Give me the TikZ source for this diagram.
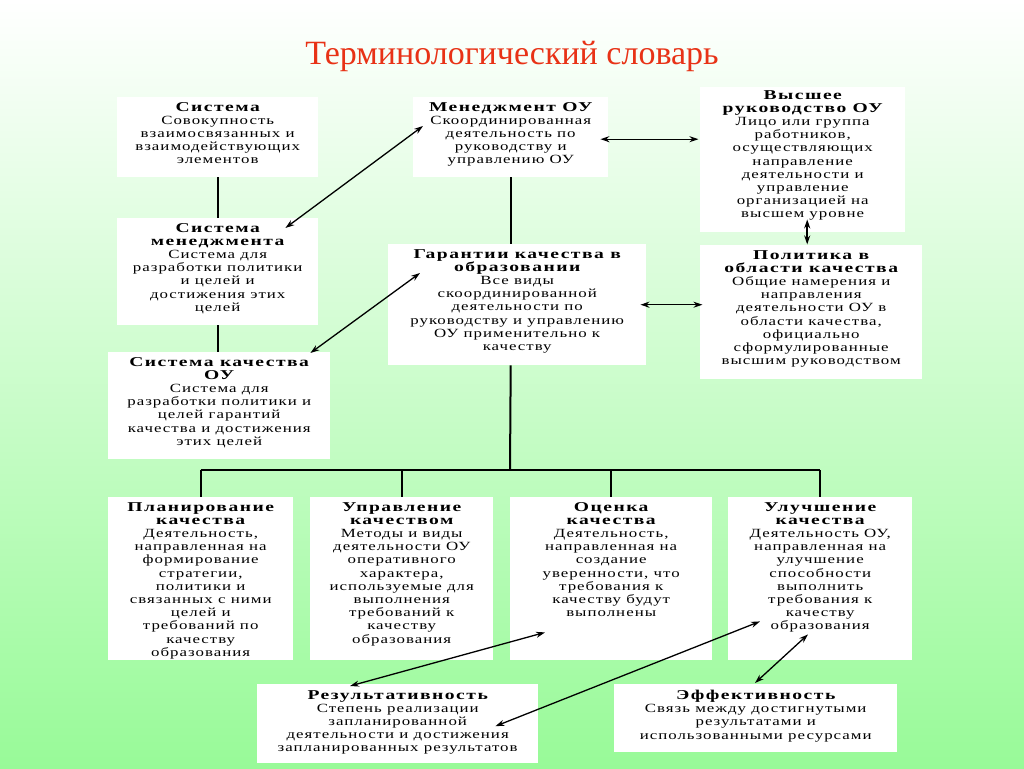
\documentclass[tikz,border=0pt]{standalone}
\usepackage{fontspec}
\setmainfont{Liberation Serif}
\newfontfamily\termfont[FakeStretch=1.35,LetterSpace=8]{Liberation Serif}
\newfontfamily\termheadfont[FakeStretch=1.45,LetterSpace=11]{Liberation Serif}
\newcommand{\termhd}[1]{{\termheadfont\bfseries\fontsize{13.5}{13.2}\selectfont #1}}
\usepackage{xcolor}
\usetikzlibrary{arrows.meta,positioning}

\definecolor{titlered}{RGB}{232,50,22}
\definecolor{bggreen}{RGB}{152,250,152}

\begin{document}
\begin{tikzpicture}[x=1pt, y=-1pt,
  panel/.style={fill=white, inner sep=0pt, anchor=north west},
  term/.style={align=center, inner sep=0pt, font=\termfont\fontsize{12.5}{13.2}\selectfont},
  link/.style={line width=2pt},
  twoway/.style={{Stealth[length=9pt,width=6pt]}-{Stealth[length=9pt,width=6pt]}, line width=1.3pt}
]
\shade[top color=white, bottom color=bggreen] (0,0) rectangle (1024,768);

\node[font=\fontsize{34}{40}\selectfont, text=titlered] (title) at (512,56) {Терминологический словарь};

% upper part
\node[panel, minimum width=201, minimum height=80] (sys) at (117,97) {};
\node[term, below=5pt of sys.north] (sys-t) {\termhd{Система}\\Совокупность\\взаимосвязанных и\\взаимодействующих\\элементов};

\node[panel, minimum width=195, minimum height=80] (mgmt) at (413,97) {};
\node[term, below=5pt of mgmt.north] (mgmt-t) {\termhd{Менеджмент ОУ}\\Скоординированная\\деятельность по\\руководству и\\управлению ОУ};

\node[panel, minimum width=205, minimum height=145] (top) at (700,87) {};
\node[term, below=3pt of top.north] (top-t) {\termhd{Высшее}\\\termhd{руководство ОУ}\\Лицо или группа\\работников,\\осуществляющих\\направление\\деятельности и\\управление\\организацией на\\высшем уровне};

\node[panel, minimum width=201, minimum height=107] (sysm) at (117,218) {};
\node[term, below=5pt of sysm.north] (sysm-t) {\termhd{Система}\\\termhd{менеджмента}\\Система для\\разработки политики\\и целей и\\достижения этих\\целей};

\node[panel, minimum width=258, minimum height=121] (qa) at (388,244) {};
\node[term, below=5pt of qa.north] (qa-t) {\termhd{Гарантии качества в}\\\termhd{образовании}\\Все виды\\скоординированной\\деятельности по\\руководству и управлению\\ОУ применительно к\\качеству};

\node[panel, minimum width=222, minimum height=134] (policy) at (700,245) {};
\node[term, below=5pt of policy.north] (policy-t) {\termhd{Политика в}\\\termhd{области качества}\\Общие намерения и\\направления\\деятельности ОУ в\\области качества,\\официально\\сформулированные\\высшим руководством};

\node[panel, minimum width=222, minimum height=107] (sysq) at (108,352) {};
\node[term, below=5pt of sysq.north] (sysq-t) {\termhd{Система качества}\\\termhd{ОУ}\\Система для\\разработки политики и\\целей гарантий\\качества и достижения\\этих целей};

% lower row
\node[panel, minimum width=185, minimum height=163] (plan) at (108,497) {};
\node[term, below=5pt of plan.north] (plan-t) {\termhd{Планирование}\\\termhd{качества}\\Деятельность,\\направленная на\\формирование\\стратегии,\\политики и\\связанных с ними\\целей и\\требований по\\качеству\\образования};

\node[panel, minimum width=183, minimum height=163] (ctrl) at (310,497) {};
\node[term, below=5pt of ctrl.north] (ctrl-t) {\termhd{Управление}\\\termhd{качеством}\\Методы и виды\\деятельности ОУ\\оперативного\\характера,\\используемые для\\выполнения\\требований к\\качеству\\образования};

\node[panel, minimum width=202, minimum height=163] (eval) at (510,497) {};
\node[term, below=5pt of eval.north] (eval-t) {\termhd{Оценка}\\\termhd{качества}\\Деятельность,\\направленная на\\создание\\уверенности, что\\требования к\\качеству будут\\выполнены};

\node[panel, minimum width=184, minimum height=163] (impr) at (728,497) {};
\node[term, below=5pt of impr.north] (impr-t) {\termhd{Улучшение}\\\termhd{качества}\\Деятельность ОУ,\\направленная на\\улучшение\\способности\\выполнить\\требования к\\качеству\\образования};

\node[panel, minimum width=281, minimum height=79] (res) at (257,684) {};
\node[term, below=6pt of res.north] (res-t) {\termhd{Результативность}\\Степень реализации\\запланированной\\деятельности и достижения\\запланированных результатов};

\node[panel, minimum width=283, minimum height=68] (eff) at (614,684) {};
\node[term, below=6pt of eff.north] (eff-t) {\termhd{Эффективность}\\Связь между достигнутыми\\результатами и\\использованными ресурсами};

% plain links
\draw[link] (sys.south) -- (sysm.north);
\draw[link] (sysm.south) -- (sysm.south |- sysq.north);
\draw[link] (mgmt.south) -- (mgmt.south |- qa.north);
\coordinate (bus) at (510,470);
\draw[link] (mgmt.south |- qa.south) -- (bus);
\draw[link] (plan.north |- bus) -- (impr.north |- bus);
\foreach \n in {plan,ctrl,eval,impr}
  \draw[link] (\n.north |- bus) -- (\n.north);

% two-way arrows
\draw[twoway] ([shift={(-33,10)}]sysm.north east) -- ([shift={(10,29)}]mgmt.north west);
\draw[twoway] ([shift={(-20,1)}]sysq.north east) -- ([shift={(32,29)}]qa.north west);
\draw[twoway] ([shift={(-8,2)}]mgmt.east) -- ([shift={(90,2)}]mgmt.east);
\draw[twoway] ([shift={(-6,0)}]qa.east) -- ([shift={(56,0)}]qa.east);
\draw[twoway, line width=2.2pt] ([shift={(4.5,-13)}]top.south) -- ([shift={(4.5,12)}]top.south);
\draw[twoway] ([shift={(93,2)}]res.north west) -- ([shift={(35,-28)}]eval.south west);
\draw[twoway] ([shift={(-43,2.5)}]res.east) -- ([shift={(32,-39)}]impr.south west);
\draw[twoway] ([shift={(141,-1)}]eff.north west) -- ([shift={(80,-26)}]impr.south west);
\end{tikzpicture}
\end{document}
